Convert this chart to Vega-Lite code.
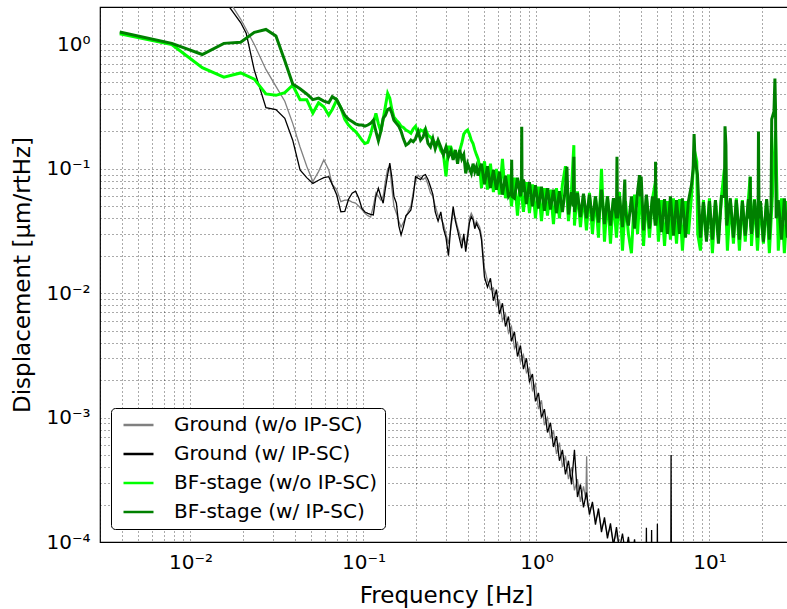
{
"$schema": "https://vega.github.io/schema/vega-lite/v6.json",
"width": 692,
"height": 535,
"autosize": {"type": "none"},
"padding": {"left": 100, "top": 7, "right": 0, "bottom": 67},
"background": "white",
"config": {
 "font": "DejaVu Sans",
 "view": {"stroke": "black", "strokeWidth": 1.2},
 "axis": {"grid": true, "gridColor": "#000000", "gridDash": [1, 3], "gridOpacity": 0.75, "gridWidth": 0.9, "domain": false, "ticks": true, "tickSize": 0, "tickColor": "#000000", "tickWidth": 1, "labelFont": "DejaVu Sans", "labelFontSize": 20, "labelColor": "#000000", "labelOverlap": false, "labelBound": false, "labelFlush": false, "titleFont": "DejaVu Sans", "titleFontSize": 23, "titleFontWeight": "normal", "titleColor": "#000000"}
},
"resolve": {"axis": {"x": "independent"}},
"datasets": {
 "gw": [
  {"f":0.0039,"v":30},{"f":0.0078,"v":12},{"f":0.0117,"v":5},{"f":0.0156,"v":2.6},{"f":0.0195,"v":1.6},{"f":0.0234,"v":1.0},{"f":0.0273,"v":0.63},{"f":0.0312,"v":0.46},{"f":0.0351,"v":0.35},{"f":0.039,"v":0.232},
  {"f":0.043,"v":0.15},{"f":0.047,"v":0.105},{"f":0.051,"v":0.079},{"f":0.055,"v":0.095},{"f":0.059,"v":0.118},{"f":0.063,"v":0.098},{"f":0.066,"v":0.075},{"f":0.07,"v":0.068},{"f":0.074,"v":0.0545},{"f":0.078,"v":0.056},
  {"f":0.082,"v":0.056},{"f":0.086,"v":0.054},{"f":0.09,"v":0.053},{"f":0.094,"v":0.05},{"f":0.098,"v":0.047},{"f":0.102,"v":0.044},{"f":0.106,"v":0.042},{"f":0.11,"v":0.041},{"f":0.114,"v":0.05},{"f":0.118,"v":0.064},
  {"f":0.122,"v":0.06},{"f":0.126,"v":0.056},{"f":0.13,"v":0.06},{"f":0.134,"v":0.08},{"f":0.138,"v":0.1},{"f":0.142,"v":0.104},{"f":0.146,"v":0.07},{"f":0.15,"v":0.05},{"f":0.155,"v":0.044},{"f":0.16,"v":0.038},
  {"f":0.165,"v":0.034},{"f":0.17,"v":0.037},{"f":0.176,"v":0.041},{"f":0.182,"v":0.046},{"f":0.188,"v":0.05},{"f":0.194,"v":0.065},{"f":0.2,"v":0.08},{"f":0.207,"v":0.089},{"f":0.214,"v":0.085},{"f":0.221,"v":0.082},
  {"f":0.228,"v":0.085},{"f":0.236,"v":0.075},{"f":0.244,"v":0.064},{"f":0.252,"v":0.06},{"f":0.26,"v":0.05},{"f":0.27,"v":0.042},{"f":0.28,"v":0.04},{"f":0.29,"v":0.036},{"f":0.3,"v":0.03},{"f":0.31,"v":0.025},
  {"f":0.32,"v":0.033},{"f":0.33,"v":0.045},{"f":0.34,"v":0.04},{"f":0.35,"v":0.034},{"f":0.36,"v":0.03},{"f":0.37,"v":0.026},{"f":0.38,"v":0.028},{"f":0.39,"v":0.024},{"f":0.4,"v":0.03},{"f":0.41,"v":0.04},
  {"f":0.42,"v":0.044},{"f":0.43,"v":0.041},{"f":0.44,"v":0.035},{"f":0.45,"v":0.038},{"f":0.46,"v":0.036},{"f":0.47,"v":0.034},{"f":0.481,"v":0.029},
  {"f":0.5007,"v":0.0158},{"f":0.521,"v":0.0126},{"f":0.542,"v":0.0107},{"f":0.564,"v":0.011},{"f":0.587,"v":0.0079},{"f":0.611,"v":0.0087},{"f":0.636,"v":0.006},{"f":0.662,"v":0.0068},{"f":0.689,"v":0.0048},{"f":0.717,"v":0.0054},
  {"f":0.746,"v":0.0036},{"f":0.777,"v":0.004},{"f":0.808,"v":0.0028},{"f":0.841,"v":0.0032},{"f":0.875,"v":0.0023},{"f":0.911,"v":0.0025},{"f":0.948,"v":0.00166},{"f":0.987,"v":0.00186},{"f":1.027,"v":0.00117},{"f":1.069,"v":0.00138},
  {"f":1.112,"v":0.00087},{"f":1.158,"v":0.001},{"f":1.205,"v":0.00068},{"f":1.254,"v":0.00079},{"f":1.305,"v":0.00051},{"f":1.358,"v":0.00063},{"f":1.413,"v":0.0004},{"f":1.471,"v":0.00049},{"f":1.531,"v":0.00032},{"f":1.594,"v":0.0004},
  {"f":1.658,"v":0.00026},{"f":1.726,"v":0.00032},{"f":1.796,"v":0.00021},{"f":1.87,"v":0.00028},{"f":1.93,"v":0.00022},{"f":1.95,"v":0.00049},{"f":1.97,"v":0.0002},{"f":2.025,"v":0.00018},{"f":2.107,"v":0.0002},{"f":2.193,"v":0.000148},
  {"f":2.283,"v":0.000174},{"f":2.376,"v":0.000129},{"f":2.473,"v":0.000148},{"f":2.573,"v":0.000115},{"f":2.678,"v":0.000132},{"f":2.787,"v":0.0001},{"f":2.901,"v":0.000117},{"f":3.019,"v":0.000089},{"f":3.142,"v":0.00008},{"f":4.0,"v":0.00005},{"f":30,"v":0.00003}
 ],
 "gi": [
  {"f":0.0039,"v":30},{"f":0.0078,"v":12},{"f":0.0117,"v":5},{"f":0.0156,"v":2.3},{"f":0.0195,"v":1.5},{"f":0.021,"v":1.23},{"f":0.0234,"v":0.62},{"f":0.0273,"v":0.31},{"f":0.0312,"v":0.3},{"f":0.0351,"v":0.255},{"f":0.039,"v":0.17},
  {"f":0.043,"v":0.098},{"f":0.047,"v":0.085},{"f":0.051,"v":0.0764},{"f":0.055,"v":0.081},{"f":0.059,"v":0.085},{"f":0.063,"v":0.0865},{"f":0.066,"v":0.075},{"f":0.07,"v":0.062},{"f":0.074,"v":0.0452},{"f":0.078,"v":0.0455},
  {"f":0.082,"v":0.057},{"f":0.086,"v":0.0636},{"f":0.09,"v":0.066},{"f":0.094,"v":0.058},{"f":0.098,"v":0.048},{"f":0.102,"v":0.045},{"f":0.106,"v":0.0439},{"f":0.11,"v":0.043},{"f":0.114,"v":0.0426},{"f":0.118,"v":0.06},
  {"f":0.122,"v":0.0697},{"f":0.126,"v":0.06},{"f":0.13,"v":0.0529},{"f":0.134,"v":0.07},{"f":0.138,"v":0.09},{"f":0.142,"v":0.111},{"f":0.146,"v":0.085},{"f":0.15,"v":0.06},{"f":0.155,"v":0.0529},{"f":0.16,"v":0.035},
  {"f":0.165,"v":0.0294},{"f":0.17,"v":0.034},{"f":0.176,"v":0.042},{"f":0.182,"v":0.044},{"f":0.188,"v":0.0467},{"f":0.194,"v":0.06},{"f":0.2,"v":0.0865},{"f":0.207,"v":0.084},{"f":0.214,"v":0.082},{"f":0.221,"v":0.088},
  {"f":0.228,"v":0.09},{"f":0.236,"v":0.082},{"f":0.244,"v":0.0718},{"f":0.252,"v":0.062},{"f":0.26,"v":0.045},{"f":0.27,"v":0.038},{"f":0.28,"v":0.045},{"f":0.29,"v":0.033},{"f":0.3,"v":0.028},{"f":0.31,"v":0.02},
  {"f":0.32,"v":0.035},{"f":0.33,"v":0.0496},{"f":0.34,"v":0.038},{"f":0.35,"v":0.032},{"f":0.36,"v":0.027},{"f":0.37,"v":0.023},{"f":0.38,"v":0.03},{"f":0.39,"v":0.0216},{"f":0.4,"v":0.028},{"f":0.41,"v":0.037},
  {"f":0.42,"v":0.0413},{"f":0.43,"v":0.039},{"f":0.44,"v":0.033},{"f":0.45,"v":0.0365},{"f":0.46,"v":0.034},{"f":0.47,"v":0.032},{"f":0.481,"v":0.027},
  {"f":0.5007,"v":0.0135},{"f":0.521,"v":0.0112},{"f":0.542,"v":0.0132},{"f":0.564,"v":0.0087},{"f":0.587,"v":0.0107},{"f":0.611,"v":0.0068},{"f":0.636,"v":0.0083},{"f":0.662,"v":0.0054},{"f":0.689,"v":0.0065},{"f":0.717,"v":0.0041},
  {"f":0.746,"v":0.0049},{"f":0.777,"v":0.0031},{"f":0.808,"v":0.0038},{"f":0.841,"v":0.00245},{"f":0.875,"v":0.003},{"f":0.911,"v":0.00195},{"f":0.948,"v":0.00224},{"f":0.987,"v":0.00135},{"f":1.027,"v":0.00158},{"f":1.069,"v":0.001},
  {"f":1.112,"v":0.00117},{"f":1.158,"v":0.00076},{"f":1.205,"v":0.00091},{"f":1.254,"v":0.00058},{"f":1.305,"v":0.00071},{"f":1.358,"v":0.00045},{"f":1.413,"v":0.00055},{"f":1.471,"v":0.00035},{"f":1.531,"v":0.00045},{"f":1.594,"v":0.00029},
  {"f":1.658,"v":0.00055},{"f":1.726,"v":0.00023},{"f":1.796,"v":0.00029},{"f":1.87,"v":0.00019},{"f":1.945,"v":0.00025},{"f":2.025,"v":0.000166},{"f":2.107,"v":0.00021},{"f":2.193,"v":0.000138},{"f":2.283,"v":0.000186},{"f":2.376,"v":0.00012},
  {"f":2.473,"v":0.000158},{"f":2.573,"v":0.000107},{"f":2.678,"v":0.000141},{"f":2.787,"v":0.000093},{"f":2.901,"v":0.000132},{"f":3.019,"v":0.000087},{"f":3.142,"v":0.000117},{"f":3.27,"v":0.00008},{"f":3.4,"v":0.00011},{"f":3.54,"v":0.00007},
  {"f":3.69,"v":0.000105},{"f":3.84,"v":0.00006},{"f":3.99,"v":0.0001},{"f":4.16,"v":0.00005},{"f":4.3,"v":0.00005},{"f":4.32,"v":0.00013},{"f":4.34,"v":0.00005},{"f":4.61,"v":0.00005},{"f":4.63,"v":0.000125},{"f":4.65,"v":0.00005},
  {"f":4.98,"v":0.00005},{"f":5.0,"v":0.00014},{"f":5.02,"v":0.00005},{"f":5.97,"v":0.00004},{"f":6.0,"v":0.0005},{"f":6.03,"v":0.00004},{"f":10,"v":0.00003},{"f":30,"v":0.00003}
 ],
 "bw": [
  {"f":0.0039,"v":1.22},{"f":0.0078,"v":1.0},{"f":0.0117,"v":0.65},{"f":0.0156,"v":0.545},{"f":0.0195,"v":0.59},{"f":0.0234,"v":0.526},{"f":0.0273,"v":0.4},{"f":0.0312,"v":0.39},{"f":0.0351,"v":0.41},{"f":0.039,"v":0.47},
  {"f":0.043,"v":0.36},{"f":0.047,"v":0.36},{"f":0.051,"v":0.28},{"f":0.055,"v":0.34},{"f":0.059,"v":0.315},{"f":0.063,"v":0.27},{"f":0.066,"v":0.3},{"f":0.07,"v":0.357},{"f":0.074,"v":0.31},{"f":0.078,"v":0.25},
  {"f":0.082,"v":0.225},{"f":0.086,"v":0.21},{"f":0.09,"v":0.199},{"f":0.094,"v":0.185},{"f":0.098,"v":0.17},{"f":0.102,"v":0.16},{"f":0.106,"v":0.163},{"f":0.11,"v":0.19},{"f":0.114,"v":0.23},{"f":0.118,"v":0.279},
  {"f":0.122,"v":0.23},{"f":0.126,"v":0.199},{"f":0.13,"v":0.25},{"f":0.134,"v":0.32},{"f":0.138,"v":0.404},{"f":0.142,"v":0.37},{"f":0.146,"v":0.3},{"f":0.15,"v":0.26},{"f":0.155,"v":0.246},{"f":0.16,"v":0.235},
  {"f":0.165,"v":0.22},{"f":0.17,"v":0.215},{"f":0.176,"v":0.205},{"f":0.182,"v":0.2},{"f":0.188,"v":0.193},{"f":0.194,"v":0.21},{"f":0.2,"v":0.22},{"f":0.207,"v":0.19},{"f":0.214,"v":0.205},{"f":0.221,"v":0.2},
  {"f":0.228,"v":0.21},{"f":0.236,"v":0.186},{"f":0.244,"v":0.18},{"f":0.252,"v":0.17},{"f":0.26,"v":0.16},{"f":0.27,"v":0.165},{"f":0.28,"v":0.14},{"f":0.29,"v":0.13},{"f":0.3,"v":0.087},{"f":0.31,"v":0.15},
  {"f":0.32,"v":0.15},{"f":0.33,"v":0.133},{"f":0.34,"v":0.13},{"f":0.35,"v":0.125},{"f":0.36,"v":0.14},{"f":0.37,"v":0.16},{"f":0.38,"v":0.19},{"f":0.39,"v":0.2},{"f":0.4,"v":0.205},{"f":0.41,"v":0.19},
  {"f":0.42,"v":0.17},{"f":0.43,"v":0.16},{"f":0.44,"v":0.142},{"f":0.45,"v":0.13},{"f":0.46,"v":0.12},{"f":0.47,"v":0.104},
  {"f":0.481,"v":0.07},{"f":0.5007,"v":0.115},{"f":0.521,"v":0.068},{"f":0.542,"v":0.11},{"f":0.564,"v":0.065},{"f":0.587,"v":0.1},{"f":0.611,"v":0.062},{"f":0.636,"v":0.12},{"f":0.662,"v":0.058},{"f":0.689,"v":0.09},
  {"f":0.717,"v":0.05},{"f":0.746,"v":0.085},{"f":0.777,"v":0.042},{"f":0.808,"v":0.08},{"f":0.841,"v":0.045},{"f":0.875,"v":0.078},{"f":0.911,"v":0.044},{"f":0.948,"v":0.075},{"f":0.987,"v":0.04},{"f":1.027,"v":0.072},
  {"f":1.069,"v":0.038},{"f":1.112,"v":0.07},{"f":1.158,"v":0.042},{"f":1.205,"v":0.068},{"f":1.254,"v":0.036},{"f":1.305,"v":0.07},{"f":1.358,"v":0.04},{"f":1.413,"v":0.075},{"f":1.471,"v":0.105},{"f":1.531,"v":0.038},
  {"f":1.594,"v":0.068},{"f":1.645,"v":0.155},{"f":1.658,"v":0.035},{"f":1.726,"v":0.066},{"f":1.796,"v":0.034},{"f":1.87,"v":0.062},{"f":1.945,"v":0.032},{"f":2.025,"v":0.064},{"f":2.107,"v":0.03},{"f":2.193,"v":0.06},
  {"f":2.283,"v":0.028},{"f":2.376,"v":0.1},{"f":2.473,"v":0.026},{"f":2.573,"v":0.06},{"f":2.678,"v":0.025},{"f":2.787,"v":0.058},{"f":2.901,"v":0.028},{"f":3.019,"v":0.065},{"f":3.142,"v":0.022},{"f":3.27,"v":0.055},
  {"f":3.4,"v":0.03},{"f":3.54,"v":0.021},{"f":3.69,"v":0.062},{"f":3.84,"v":0.03},{"f":3.99,"v":0.07},{"f":4.16,"v":0.024},{"f":4.32,"v":0.06},{"f":4.5,"v":0.028},{"f":4.68,"v":0.057},{"f":4.88,"v":0.08},
  {"f":5.07,"v":0.026},{"f":5.28,"v":0.056},{"f":5.5,"v":0.024},{"f":5.72,"v":0.055},{"f":5.95,"v":0.027},{"f":6.19,"v":0.058},{"f":6.45,"v":0.025},{"f":6.71,"v":0.057},{"f":6.98,"v":0.022},{"f":7.27,"v":0.055},
  {"f":7.56,"v":0.03},{"f":7.87,"v":0.06},{"f":8.19,"v":0.14},{"f":8.45,"v":0.114},{"f":8.55,"v":0.03},{"f":8.87,"v":0.022},{"f":9.23,"v":0.056},{"f":9.61,"v":0.028},{"f":10.0,"v":0.058},{"f":10.4,"v":0.021},
  {"f":10.83,"v":0.055},{"f":11.27,"v":0.028},{"f":11.73,"v":0.06},{"f":12.2,"v":0.1},{"f":12.7,"v":0.022},{"f":13.2,"v":0.056},{"f":13.76,"v":0.025},{"f":14.3,"v":0.058},{"f":14.9,"v":0.022},{"f":15.5,"v":0.056},
  {"f":16.1,"v":0.026},{"f":16.8,"v":0.058},{"f":17.2,"v":0.0865},{"f":17.5,"v":0.024},{"f":18.2,"v":0.057},{"f":18.95,"v":0.022},{"f":19.7,"v":0.055},{"f":20.5,"v":0.025},{"f":21.4,"v":0.056},{"f":22.2,"v":0.021},
  {"f":23.1,"v":0.06},{"f":24.1,"v":0.2},{"f":25.0,"v":0.022},{"f":26.1,"v":0.058},{"f":27.1,"v":0.021},{"f":28.2,"v":0.055},{"f":29.4,"v":0.024}
 ],
 "bi": [
  {"f":0.0039,"v":1.26},{"f":0.0078,"v":1.02},{"f":0.0117,"v":0.83},{"f":0.0156,"v":1.02},{"f":0.0195,"v":1.04},{"f":0.0234,"v":1.25},{"f":0.0273,"v":1.32},{"f":0.0312,"v":1.17},{"f":0.0351,"v":0.74},{"f":0.039,"v":0.48},
  {"f":0.043,"v":0.44},{"f":0.047,"v":0.4},{"f":0.051,"v":0.36},{"f":0.055,"v":0.37},{"f":0.059,"v":0.35},{"f":0.063,"v":0.34},{"f":0.066,"v":0.38},{"f":0.07,"v":0.36},{"f":0.074,"v":0.31},{"f":0.078,"v":0.27},
  {"f":0.082,"v":0.25},{"f":0.086,"v":0.24},{"f":0.09,"v":0.23},{"f":0.094,"v":0.225},{"f":0.098,"v":0.225},{"f":0.102,"v":0.22},{"f":0.106,"v":0.225},{"f":0.11,"v":0.232},{"f":0.114,"v":0.246},{"f":0.118,"v":0.2},
  {"f":0.122,"v":0.168},{"f":0.126,"v":0.2},{"f":0.13,"v":0.255},{"f":0.134,"v":0.27},{"f":0.138,"v":0.3},{"f":0.142,"v":0.306},{"f":0.146,"v":0.28},{"f":0.15,"v":0.246},{"f":0.155,"v":0.232},{"f":0.16,"v":0.22},
  {"f":0.165,"v":0.2},{"f":0.17,"v":0.175},{"f":0.176,"v":0.155},{"f":0.182,"v":0.16},{"f":0.188,"v":0.17},{"f":0.194,"v":0.165},{"f":0.2,"v":0.175},{"f":0.207,"v":0.2},{"f":0.214,"v":0.17},{"f":0.221,"v":0.18},
  {"f":0.228,"v":0.205},{"f":0.236,"v":0.16},{"f":0.244,"v":0.15},{"f":0.252,"v":0.175},{"f":0.26,"v":0.145},{"f":0.27,"v":0.17},{"f":0.28,"v":0.15},{"f":0.29,"v":0.13},{"f":0.3,"v":0.15},{"f":0.31,"v":0.125},
  {"f":0.32,"v":0.14},{"f":0.33,"v":0.118},{"f":0.34,"v":0.142},{"f":0.35,"v":0.11},{"f":0.36,"v":0.142},{"f":0.37,"v":0.12},{"f":0.38,"v":0.13},{"f":0.39,"v":0.092},{"f":0.4,"v":0.11},{"f":0.41,"v":0.1},
  {"f":0.42,"v":0.092},{"f":0.43,"v":0.11},{"f":0.44,"v":0.095},{"f":0.45,"v":0.104},{"f":0.46,"v":0.088},{"f":0.47,"v":0.1},
  {"f":0.481,"v":0.11},{"f":0.5007,"v":0.075},{"f":0.521,"v":0.105},{"f":0.542,"v":0.07},{"f":0.564,"v":0.098},{"f":0.587,"v":0.068},{"f":0.611,"v":0.095},{"f":0.636,"v":0.062},{"f":0.662,"v":0.088},{"f":0.689,"v":0.06},
  {"f":0.714,"v":0.065},{"f":0.719,"v":0.118},{"f":0.724,"v":0.06},{"f":0.746,"v":0.058},{"f":0.777,"v":0.085},{"f":0.808,"v":0.06},{"f":0.818,"v":0.07},{"f":0.822,"v":0.218},{"f":0.826,"v":0.065},{"f":0.841,"v":0.082},
  {"f":0.875,"v":0.052},{"f":0.911,"v":0.078},{"f":0.948,"v":0.05},{"f":0.987,"v":0.074},{"f":1.027,"v":0.048},{"f":1.069,"v":0.072},{"f":1.112,"v":0.046},{"f":1.158,"v":0.07},{"f":1.205,"v":0.047},{"f":1.254,"v":0.068},
  {"f":1.305,"v":0.044},{"f":1.358,"v":0.066},{"f":1.413,"v":0.045},{"f":1.471,"v":0.07},{"f":1.5,"v":0.104},{"f":1.531,"v":0.043},{"f":1.594,"v":0.065},{"f":1.63,"v":0.05},{"f":1.645,"v":0.125},{"f":1.66,"v":0.045},
  {"f":1.726,"v":0.064},{"f":1.796,"v":0.041},{"f":1.87,"v":0.063},{"f":1.945,"v":0.04},{"f":2.025,"v":0.062},{"f":2.107,"v":0.038},{"f":2.193,"v":0.06},{"f":2.283,"v":0.037},{"f":2.376,"v":0.068},{"f":2.473,"v":0.036},
  {"f":2.573,"v":0.06},{"f":2.678,"v":0.035},{"f":2.787,"v":0.058},{"f":2.9,"v":0.04},{"f":2.92,"v":0.125},{"f":2.94,"v":0.04},{"f":3.019,"v":0.06},{"f":3.142,"v":0.034},{"f":3.24,"v":0.082},{"f":3.27,"v":0.045},
  {"f":3.4,"v":0.035},{"f":3.54,"v":0.06},{"f":3.69,"v":0.033},{"f":3.84,"v":0.065},{"f":3.94,"v":0.089},{"f":3.99,"v":0.06},{"f":4.03,"v":0.0865},{"f":4.16,"v":0.032},{"f":4.32,"v":0.062},{"f":4.5,"v":0.033},
  {"f":4.68,"v":0.06},{"f":4.86,"v":0.035},{"f":4.88,"v":0.114},{"f":4.9,"v":0.035},{"f":5.07,"v":0.058},{"f":5.28,"v":0.031},{"f":5.5,"v":0.057},{"f":5.72,"v":0.03},{"f":5.95,"v":0.06},{"f":6.19,"v":0.029},
  {"f":6.45,"v":0.056},{"f":6.71,"v":0.03},{"f":6.98,"v":0.058},{"f":7.27,"v":0.028},{"f":7.56,"v":0.055},{"f":7.87,"v":0.074},{"f":8.05,"v":0.1},{"f":8.15,"v":0.19},{"f":8.25,"v":0.12},{"f":8.52,"v":0.09},
  {"f":8.87,"v":0.028},{"f":9.23,"v":0.054},{"f":9.61,"v":0.026},{"f":10.0,"v":0.055},{"f":10.4,"v":0.027},{"f":10.83,"v":0.056},{"f":11.27,"v":0.025},{"f":11.73,"v":0.06},{"f":12.2,"v":0.06},{"f":12.3,"v":0.22},
  {"f":12.45,"v":0.155},{"f":12.6,"v":0.035},{"f":13.2,"v":0.058},{"f":13.76,"v":0.028},{"f":14.3,"v":0.056},{"f":14.9,"v":0.027},{"f":15.5,"v":0.055},{"f":16.1,"v":0.029},{"f":16.8,"v":0.057},{"f":17.1,"v":0.04},
  {"f":17.2,"v":0.0865},{"f":17.3,"v":0.035},{"f":17.5,"v":0.03},{"f":18.2,"v":0.056},{"f":18.95,"v":0.028},{"f":19.1,"v":0.04},{"f":19.2,"v":0.2},{"f":19.35,"v":0.04},{"f":19.7,"v":0.055},{"f":20.5,"v":0.026},
  {"f":21.4,"v":0.057},{"f":22.2,"v":0.027},{"f":22.7,"v":0.05},{"f":22.9,"v":0.25},{"f":23.6,"v":0.29},{"f":23.9,"v":0.533},{"f":24.1,"v":0.3},{"f":24.3,"v":0.04},{"f":25.0,"v":0.056},{"f":26.1,"v":0.027},
  {"f":27.1,"v":0.058},{"f":28.2,"v":0.028},{"f":29.4,"v":0.05}
 ]
},
"layer": [
 {
  "data": {"name": "gw"},
  "mark": {"type": "line", "clip": true, "strokeWidth": 1.3},
  "encoding": {
   "x": {"field": "f", "type": "quantitative", "scale": {"type": "log", "domain": [0.003, 30], "nice": false},
    "axis": {"title": "Frequency [Hz]", "orient": "bottom", "values": [0.003,0.004,0.005,0.006,0.007,0.008,0.009,0.01,0.02,0.03,0.04,0.05,0.06,0.07,0.08,0.09,0.1,0.2,0.3,0.4,0.5,0.6,0.7,0.8,0.9,1,2,3,4,5,6,7,8,9,10,20,30],
     "labelExpr": "datum.value === 0.01 ? '10⁻²' : datum.value === 0.1 ? '10⁻¹' : datum.value === 1 ? '10⁰' : datum.value === 10 ? '10¹' : ''",
     "labelPadding": 10, "titlePadding": 12,
     "encode": {"ticks": {"update": {"y2": {"signal": "indexof([0.01, 0.1, 1, 10], datum.value) >= 0 ? -8 : -4"}}}}}},
   "y": {"field": "v", "type": "quantitative", "scale": {"type": "log", "domain": [0.0001, 2], "nice": false},
    "axis": {"title": "Displacement [μm/rtHz]", "values": [0.0001,0.0002,0.0003,0.0004,0.0005,0.0006,0.0007,0.0008,0.0009,0.001,0.002,0.003,0.004,0.005,0.006,0.007,0.008,0.009,0.01,0.02,0.03,0.04,0.05,0.06,0.07,0.08,0.09,0.1,0.2,0.3,0.4,0.5,0.6,0.7,0.8,0.9,1,2],
     "labelExpr": "datum.value === 0.0001 ? '10⁻⁴' : datum.value === 0.001 ? '10⁻³' : datum.value === 0.01 ? '10⁻²' : datum.value === 0.1 ? '10⁻¹' : datum.value === 1 ? '10⁰' : ''",
     "labelPadding": 10, "titlePadding": 11,
     "encode": {"ticks": {"update": {"x2": {"signal": "indexof([0.0001, 0.001, 0.01, 0.1, 1], datum.value) >= 0 ? 8 : 4"}}}}}},
   "color": {"datum": "Ground (w/o IP-SC)", "type": "nominal",
    "scale": {"domain": ["Ground (w/o IP-SC)", "Ground (w/ IP-SC)", "BF-stage (w/o IP-SC)", "BF-stage (w/ IP-SC)"], "range": ["#808080", "#000000", "#00ff00", "#008000"]},
    "legend": {"title": null, "orient": "none", "legendX": 11, "legendY": 401, "strokeColor": "#000000", "cornerRadius": 4, "padding": 7, "fillColor": "#ffffff",
     "labelFont": "DejaVu Sans", "labelFontSize": 20, "labelColor": "#000000", "labelLimit": 500, "symbolType": "stroke", "symbolSize": 900, "symbolStrokeWidth": 2.5, "symbolOpacity": 1, "symbolOffset": 4,
     "clipHeight": 20, "rowPadding": 9, "labelOffset": 19}
   }
  }
 },
 {
  "data": {"name": "gi"},
  "mark": {"type": "line", "clip": true, "strokeWidth": 1.3},
  "encoding": {
   "x": {"field": "f", "type": "quantitative",
    "axis": {"orient": "top", "title": null, "labels": false, "grid": false, "values": [0.003,0.004,0.005,0.006,0.007,0.008,0.009,0.01,0.02,0.03,0.04,0.05,0.06,0.07,0.08,0.09,0.1,0.2,0.3,0.4,0.5,0.6,0.7,0.8,0.9,1,2,3,4,5,6,7,8,9,10,20,30],
     "encode": {"ticks": {"update": {"y2": {"signal": "indexof([0.01, 0.1, 1, 10], datum.value) >= 0 ? 8 : 4"}}}}}},
   "y": {"field": "v", "type": "quantitative"},
   "color": {"datum": "Ground (w/ IP-SC)", "type": "nominal"}}
 },
 {
  "data": {"name": "bw"},
  "mark": {"type": "line", "clip": true, "strokeWidth": 3},
  "encoding": {"x": {"field": "f", "type": "quantitative", "axis": null}, "y": {"field": "v", "type": "quantitative"}, "color": {"datum": "BF-stage (w/o IP-SC)", "type": "nominal"}}
 },
 {
  "data": {"name": "bi"},
  "mark": {"type": "line", "clip": true, "strokeWidth": 3},
  "encoding": {"x": {"field": "f", "type": "quantitative", "axis": null}, "y": {"field": "v", "type": "quantitative"}, "color": {"datum": "BF-stage (w/ IP-SC)", "type": "nominal"}}
 }
]
}
